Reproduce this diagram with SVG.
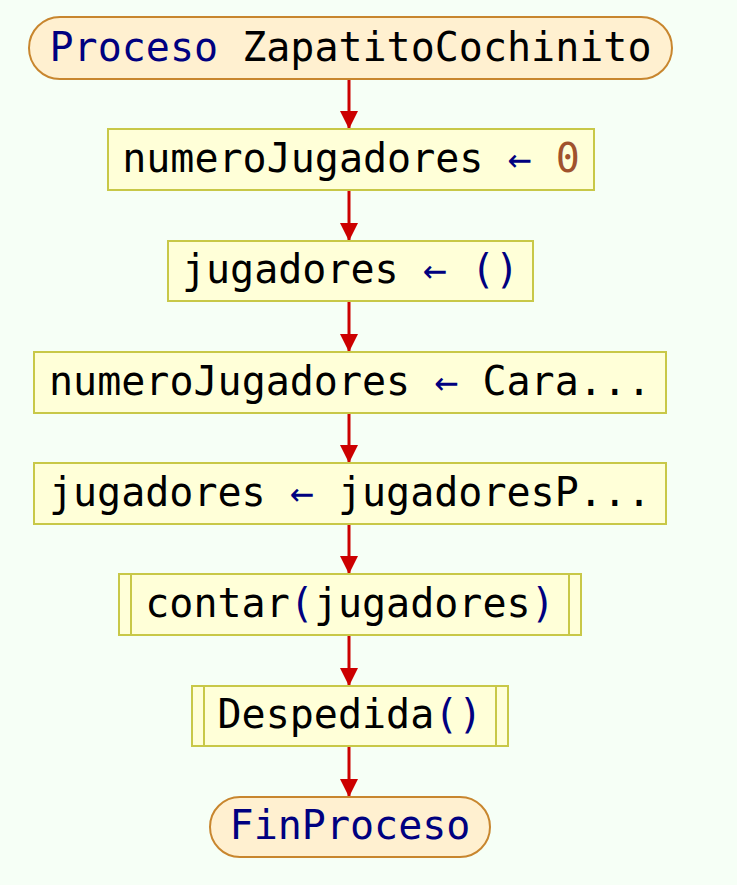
<svg xmlns="http://www.w3.org/2000/svg" width="737" height="885" viewBox="0 0 737 885">
<defs>
<style>
text{font-family:"DejaVu Sans Mono","Liberation Mono",monospace;font-size:40px;fill:#000;text-anchor:middle}
.kw{fill:#000080}
.num{fill:#a0522d}
.term{fill:#fff0d0;stroke:#c8862e;stroke-width:2}
.box{fill:#ffffd8;stroke:#c8c848;stroke-width:2}
.edge{stroke:#cc0000;stroke-width:3;fill:none}
</style>
<marker id="ah" viewBox="0 0 10 10" refX="10" refY="5" markerWidth="6" markerHeight="6" markerUnits="strokeWidth" orient="auto">
<path d="M0,0 L10,5 L0,10 Z" fill="#cc0000"/>
</marker>
</defs>
<rect width="737" height="885" fill="#f6fff6"/>
<g id="connectors">
<line class="edge" x1="349" y1="79" x2="349" y2="129" marker-end="url(#ah)"/>
<line class="edge" x1="349" y1="190" x2="349" y2="241" marker-end="url(#ah)"/>
<line class="edge" x1="349" y1="301" x2="349" y2="352" marker-end="url(#ah)"/>
<line class="edge" x1="349" y1="413" x2="349" y2="463" marker-end="url(#ah)"/>
<line class="edge" x1="349" y1="524" x2="349" y2="574" marker-end="url(#ah)"/>
<line class="edge" x1="349" y1="635" x2="349" y2="686" marker-end="url(#ah)"/>
<line class="edge" x1="349" y1="746" x2="349" y2="797" marker-end="url(#ah)"/>
</g>
<g id="start">
<rect class="term" x="29" y="17" width="643" height="62" rx="31"/>
<text x="350.5" y="61"><tspan class="kw">Proceso</tspan> ZapatitoCochinito</text>
</g>
<g id="n1">
<rect class="box" x="108" y="129" width="486" height="61"/>
<text x="351" y="172">numeroJugadores <tspan class="kw">←</tspan> <tspan class="num">0</tspan></text>
</g>
<g id="n2">
<rect class="box" x="168" y="241" width="365" height="60"/>
<text x="350.5" y="283">jugadores <tspan class="kw">← ()</tspan></text>
</g>
<g id="n3">
<rect class="box" x="34" y="352" width="632" height="61"/>
<text x="350" y="395">numeroJugadores <tspan class="kw">←</tspan> Cara...</text>
</g>
<g id="n4">
<rect class="box" x="34" y="463" width="632" height="61"/>
<text x="350" y="506">jugadores <tspan class="kw">←</tspan> jugadoresP...</text>
</g>
<g id="n5">
<rect class="box" x="119" y="574" width="462" height="61"/>
<line class="box" x1="131" y1="574" x2="131" y2="635"/>
<line class="box" x1="569" y1="574" x2="569" y2="635"/>
<text x="350" y="617">contar<tspan class="kw">(</tspan>jugadores<tspan class="kw">)</tspan></text>
</g>
<g id="n6">
<rect class="box" x="192" y="686" width="316" height="60"/>
<line class="box" x1="204" y1="686" x2="204" y2="746"/>
<line class="box" x1="496" y1="686" x2="496" y2="746"/>
<text x="350" y="728">Despedida<tspan class="kw">()</tspan></text>
</g>
<g id="end">
<rect class="term" x="210" y="797" width="280" height="60" rx="30"/>
<text x="350" y="839" class="kw">FinProceso</text>
</g>
</svg>
